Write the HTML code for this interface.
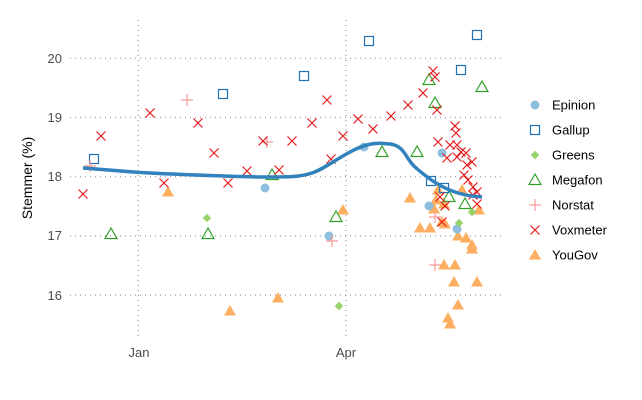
<!DOCTYPE html>
<html><head><meta charset="utf-8"><style>
html,body{margin:0;padding:0;background:#fff;}
svg{display:block;font-family:"Liberation Sans",sans-serif;}
</style></head><body>
<svg id="s" width="642" height="400" xmlns="http://www.w3.org/2000/svg">
<g stroke="#999" stroke-width="1.2" stroke-dasharray="1,4" fill="none">
<line x1="70" x2="502" y1="58.3" y2="58.3"/>
<line x1="70" x2="502" y1="117.5" y2="117.5"/>
<line x1="70" x2="502" y1="176.7" y2="176.7"/>
<line x1="70" x2="502" y1="235.9" y2="235.9"/>
<line x1="70" x2="502" y1="295.1" y2="295.1"/>
<line x1="138.3" x2="138.3" y1="20" y2="336"/>
<line x1="346" x2="346" y1="20" y2="336"/>
</g>
<g font-size="13" fill="#4d4d4d" text-anchor="end">
<text x="62" y="63">20</text><text x="62" y="122">19</text><text x="62" y="181">18</text><text x="62" y="240">17</text><text x="62" y="300">16</text>
</g>
<g font-size="13" fill="#4d4d4d" text-anchor="middle">
<text x="139" y="357">Jan</text><text x="346" y="357">Apr</text>
</g>
<text transform="translate(32,178) rotate(-90)" font-size="14" text-anchor="middle" fill="#000">Stemmer (%)</text>
<g id="pts"></g>
<path d="M83,168 C110,170 130,172 150,173 S240,177 265,177 S300,177 312,173 S335,160 350,152 S375,142 390,144 S405,158 415,167 S440,187 455,192 S475,196 482,197" fill="none" stroke="#3182bd" stroke-width="3.5"/>
<g id="leg" font-size="13" fill="#000"></g>
</svg>
<script>
var C={E:"#8fbfdf",G:"#2171b5",R:"#98d36a",M:"#33a02c",N:"#fb9a99",V:"#e31a1c",Y:"#fdae61"};
function sym(t,x,y){var c=C[t];
if(t=="E")return '<circle cx="'+x+'" cy="'+y+'" r="4.5" fill="'+c+'"/>';
if(t=="G")return '<rect x="'+(x-4.5)+'" y="'+(y-4.5)+'" width="9" height="9" fill="none" stroke="'+c+'" stroke-width="1.2"/>';
if(t=="R")return '<rect x="'+(x-3)+'" y="'+(y-3)+'" width="6" height="6" fill="'+c+'" transform="rotate(45 '+x+' '+y+')"/>';
if(t=="M")return '<polygon points="'+x+','+(y-6)+' '+(x-6)+','+(y+4.5)+' '+(x+6)+','+(y+4.5)+'" fill="none" stroke="'+c+'" stroke-width="1.2"/>';
if(t=="Y")return '<polygon points="'+x+','+(y-6)+' '+(x-6)+','+(y+4.5)+' '+(x+6)+','+(y+4.5)+'" fill="'+c+'"/>';
if(t=="N")return '<path d="M'+(x-6)+','+y+'h12M'+x+','+(y-6)+'v12" stroke="'+c+'" stroke-width="1.2"/>';
if(t=="V")return '<path d="M'+(x-4.5)+','+(y-4.5)+'l9,9M'+(x-4.5)+','+(y+4.5)+'l9,-9" stroke="'+c+'" stroke-width="1.2"/>';}
var P={
Y:[[168,192],[230,311],[278,298],[343,210],[410,198],[420,228],[430,228],[434,209],[436,200],[438,190],[444,204],[442,222],[445,224],[458,236],[466,238],[472,245],[472,249],[444,265],[455,265],[454,282],[477,282],[458,305],[448,318],[450,324],[479,210],[462,190]],
E:[[265,188],[329,236],[364,147],[442,153],[429,206],[457,229]],
R:[[207,218],[339,306],[459,223],[472,212]],
M:[[111,234],[208,234],[272,175],[336,217],[382,152],[417,152],[429,80],[435,103],[482,87],[449,197],[465,204]],
G:[[94,159],[223,94],[304,76],[369,41],[461,70],[477,35],[431,181],[444,188]],
N:[[90,166],[187,100],[267,142],[332,241],[435,217],[435,265]],
V:[[83,194],[101,136],[150,113],[198,123],[214,153],[164,183],[247,171],[228,183],[263,141],[279,170],[292,141],[312,123],[327,100],[331,159],[343,136],[358,119],[373,129],[391,116],[408,105],[423,93],[433,71],[435,77],[437,110],[438,142],[450,145],[447,158],[455,126],[456,133],[457,145],[461,152],[457,157],[466,153],[467,165],[472,162],[464,175],[468,180],[473,187],[477,192],[473,195],[477,204],[440,197],[445,206],[442,222]]};
var h="";for(var k in P)P[k].forEach(function(p){h+=sym(k,p[0],p[1]);});
document.getElementById("pts").innerHTML=h;
var L=[["E","Epinion"],["G","Gallup"],["R","Greens"],["M","Megafon"],["N","Norstat"],["V","Voxmeter"],["Y","YouGov"]];
var g="";L.forEach(function(l,i){var y=105+i*25;g+=sym(l[0],535,y)+'<text x="552" y="'+(y+4.5)+'">'+l[1]+'</text>';});
document.getElementById("leg").innerHTML=g;
</script>
</body></html>
